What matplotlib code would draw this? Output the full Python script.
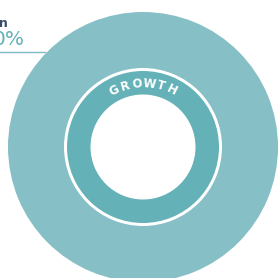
import numpy as np
import matplotlib.pyplot as plt

# chart data
outer_values = [100]
inner_values = [100]
ring_label = "GROWTH"
callout_name = "n"
callout_value = "0%"

W, H = 279, 278
cx, cy = 143, H - 147

fig = plt.figure(figsize=(W / 100, H / 100), dpi=100)
ax = fig.add_axes([0, 0, 1, 1])

# big outer disc
ax.pie(outer_values, radius=135, center=(cx, cy), colors=['#86bfc6'],
       startangle=90, counterclock=False, frame=True,
       wedgeprops=dict(linewidth=0))
# white outline around inner ring
ax.pie([1], radius=79, center=(cx, cy), colors=['white'], frame=True,
       wedgeprops=dict(linewidth=0))
# inner teal ring
ax.pie(inner_values, radius=76, center=(cx, cy), colors=['#64b1b8'],
       startangle=90, counterclock=False, frame=True,
       wedgeprops=dict(width=23.5, linewidth=0))

# curved label along top of the ring
r_txt = 63.5
angles = np.linspace(117, 63, len(ring_label))
for ch, a in zip(ring_label, angles):
    t = np.deg2rad(a)
    ax.text(cx + r_txt * np.cos(t), cy + r_txt * np.sin(t), ch,
            rotation=a - 90, ha='center', va='center', color='white',
            fontsize=8.5, fontweight='bold', family='DejaVu Sans')

# cut-off callout at top left
ax.text(8, H - 27, callout_name, ha='right', va='baseline', color='#3c4a6a',
        fontsize=9, fontweight='bold')
ax.text(25, H - 45, callout_value, ha='right', va='baseline', color='#64b1b8',
        fontsize=14.5)
ax.plot([0, 45], [H - 52, H - 52], color='#7fbcc3', linewidth=1)

ax.set_xlim(0, W)
ax.set_ylim(0, H)
ax.set_aspect('auto')
ax.axis('off')

fig.savefig('out.png', dpi=100)
